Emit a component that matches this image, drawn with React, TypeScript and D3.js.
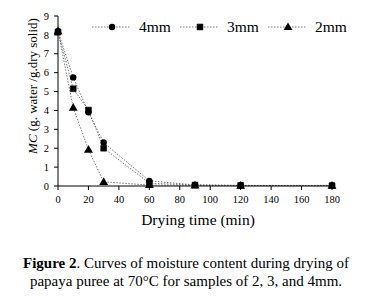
import React from "react";
import * as d3 from "d3";

const times = [0, 10, 20, 30, 60, 90, 120, 180];
const mc4 = [8.2, 5.75, 3.9, 2.3, 0.27, 0.06, 0.03, 0.03];
const mc3 = [8.15, 5.15, 4.02, 2.0, 0.15, 0.05, 0.03, 0.02];
const mc2 = [8.2, 4.15, 1.92, 0.22, 0.05, 0.03, 0.02, 0.02];
const xTicks = [0, 20, 40, 60, 80, 100, 120, 140, 160, 180];
const yTicks = [0, 1, 2, 3, 4, 5, 6, 7, 8, 9];
const seriesNames = ["4mm", "3mm", "2mm"];

const FONT = '"Liberation Serif", "Times New Roman", serif';
const ff = { fontFamily: FONT };

export default function App() {
  const W = 368, H = 296;
  const x = d3.scaleLinear().domain([0, 180]).range([58, 332]);
  const y = d3.scaleLinear().domain([0, 9]).range([186, 16]);
  const line = d3.line<number>().x((_, i) => x(times[i])).y((d) => y(d));
  const series = [mc4, mc3, mc2];
  const sq = d3.symbol().type(d3.symbolSquare).size(34)();
  const tri = d3.symbol().type(d3.symbolTriangle).size(34)();

  const marker = (k: number, cx: number, cy: number, key: string) => {
    if (k === 0) return <circle key={key} cx={cx} cy={cy} r={3.2} fill="#000" />;
    if (k === 1) return <path key={key} d={sq || ""} transform={`translate(${cx},${cy})`} fill="#000" stroke="#000" strokeWidth={0.6} strokeLinejoin="round" />;
    return <path key={key} d={tri || ""} transform={`translate(${cx},${cy + 0.5})`} fill="#000" />;
  };

  const legendX = [92, 180, 268];

  return (
    <svg width={W} height={H} style={{ position: "absolute", left: 0, top: 0, background: "#fff" }}>
      {series.map((s, k) => (
        <path key={k} d={line(s) || ""} fill="none" stroke="#555" strokeWidth={0.8} strokeDasharray="1.5,1.5" />
      ))}
      {series.map((s, k) => s.map((v, i) => marker(k, x(times[i]), y(v), `${k}-${i}`)))}
      <line x1={x(0)} x2={x(0)} y1={y(9)} y2={y(0)} stroke="#000" strokeWidth={1} />
      <line x1={x(0)} x2={x(180)} y1={y(0)} y2={y(0)} stroke="#000" strokeWidth={1} />
      {yTicks.map((t) => (
        <g key={t}>
          <line x1={x(0) - 4} x2={x(0)} y1={y(t)} y2={y(t)} stroke="#000" />
          <text x={49} y={y(t)} dy="0.35em" textAnchor="end" style={ff} fontSize={10.5}>{t}</text>
        </g>
      ))}
      {xTicks.map((t) => (
        <g key={t}>
          <line x1={x(t)} x2={x(t)} y1={y(0)} y2={y(0) + 4} stroke="#000" />
          <text x={x(t)} y={199} dy="0.35em" textAnchor="middle" style={ff} fontSize={10.5}>{t}</text>
        </g>
      ))}
      <text x={198} y={225} textAnchor="middle" style={ff} fontSize={15.5}>Drying time (min)</text>
      <text transform={`translate(37,86) rotate(-90)`} textAnchor="middle" style={ff} fontSize={13}>
        <tspan fontStyle="italic">MC</tspan> (g. water /g.dry solid)
      </text>
      {seriesNames.map((n, k) => (
        <g key={n}>
          <line x1={legendX[k]} x2={legendX[k] + 38} y1={27} y2={27} stroke="#555" strokeWidth={0.8} strokeDasharray="1.5,1.5" />
          {marker(k, legendX[k] + 20, 27, "lg" + k)}
          <text x={legendX[k] + 47} y={32} style={ff} fontSize={15.5}>{n}</text>
        </g>
      ))}
      <text x={186} y={268} textAnchor="middle" style={ff} fontSize={15}>
        <tspan fontWeight="bold">Figure 2</tspan>. Curves of moisture content during drying of
      </text>
      <text x={186} y={286} textAnchor="middle" style={ff} fontSize={15}>
        papaya puree at 70°C for samples of 2, 3, and 4mm.
      </text>
    </svg>
  );
}
